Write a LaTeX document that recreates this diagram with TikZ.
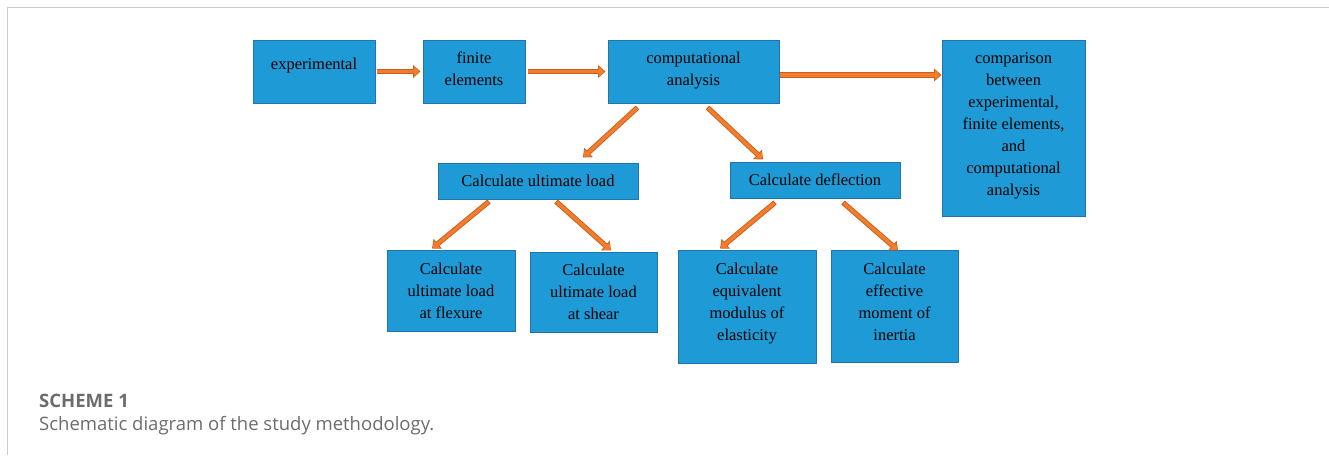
\documentclass[tikz,border=0pt]{standalone}
\usepackage{fontspec}
\setmainfont{Liberation Serif}
\newfontfamily\capfont{Open Sans}
\usetikzlibrary{arrows.meta}
\definecolor{boxfill}{HTML}{1E9BD7}
\definecolor{boxline}{HTML}{2473AA}
\definecolor{flowfill}{HTML}{F47C2C}
\definecolor{flowline}{HTML}{C55F1D}
\definecolor{framegray}{HTML}{CCCCCC}
\definecolor{capgray}{HTML}{6C6C6C}
\begin{document}
\begin{tikzpicture}[x=1pt,y=-1pt,
  box/.style={draw=boxline,fill=boxfill,line width=1pt,align=center,inner sep=0pt,font=\fontsize{16.5}{22}\selectfont},
  flow/.style={draw=flowfill,line width=3.4pt,-{Triangle[length=5.5pt,width=9.5pt]},shorten >=1.1pt,shorten <=0.9pt,
    preaction={draw=flowline,line width=5.2pt,-{Triangle[length=7.5pt,width=12.5pt]},shorten >=0pt,shorten <=0pt}}]
\useasboundingbox (0,0) rectangle (1329,455);
\draw[framegray,line width=1.3pt] (7.5,455) -- (7.5,7.5) -- (1329,7.5);
% top row
\node[box,minimum width=122pt,minimum height=63pt,text depth=16pt] (exper) at (314,71.5) {experimental};
\node[box,minimum width=102pt,minimum height=63pt,text depth=5pt] (finite) at (474,71.5) {finite\\elements};
\node[box,minimum width=171pt,minimum height=63pt,text depth=5pt] (comput) at (693.5,71.5) {computational\\analysis};
\node[box,minimum width=143pt,minimum height=176pt,text depth=7pt] (compar) at (1013.5,128) {comparison\\between\\experimental,\\finite elements,\\and\\computational\\analysis};
% middle row
\node[box,minimum width=200pt,minimum height=36pt] (ultload) at (538,181) {Calculate ultimate load};
\node[box,minimum width=170pt,minimum height=36pt] (deflect) at (815,180) {Calculate deflection};
% bottom row
\node[box,minimum width=128pt,minimum height=81pt] (flexure) at (451,290.5) {Calculate\\ultimate load\\at flexure};
\node[box,minimum width=127pt,minimum height=80pt] (shear) at (593.5,292) {Calculate\\ultimate load\\at shear};
\node[box,minimum width=138pt,minimum height=113pt,text depth=9pt] (equiv) at (747,306.5) {Calculate\\equivalent\\modulus of\\elasticity};
\node[box,minimum width=127pt,minimum height=112pt,text depth=8pt] (effect) at (894.5,306) {Calculate\\effective\\moment of\\inertia};
% arrows
\draw[flow] ([xshift=1pt]exper.east) -- ([xshift=-2pt]finite.west);
\draw[flow] ([xshift=2pt]finite.east) -- ([xshift=-2pt]comput.west);
\draw[flow] ([yshift=-3.5pt]comput.east) -- ([yshift=-3.5pt]comput.east -| compar.west);
\draw[flow] ([xshift=30pt,yshift=-4pt]comput.south west) -- ([xshift=45pt,yshift=5pt]ultload.north);
\draw[flow] ([xshift=100pt,yshift=-4pt]comput.south west) -- ([xshift=-52pt,yshift=2pt]deflect.north);
\draw[flow] ([xshift=-49pt,yshift=-2pt]ultload.south) -- ([xshift=-19pt,yshift=1pt]flexure.north);
\draw[flow] ([xshift=18pt,yshift=-2pt]ultload.south) -- ([xshift=17.5pt,yshift=1pt]shear.north);
\draw[flow] ([xshift=-40pt,yshift=-4pt]deflect.south) -- ([xshift=-27pt,yshift=1pt]equiv.north);
\draw[flow] ([xshift=28pt,yshift=-4pt]deflect.south) -- ([xshift=3.5pt,yshift=-1pt]effect.north);
% caption
\node[anchor=base west,inner sep=0pt,text=capgray,font=\capfont\bfseries\fontsize{18.5}{22}\selectfont] (schtitle) at (39,407) {SCHEME 1};
\node[anchor=base west,inner sep=0pt,text=capgray,font=\capfont\fontsize{18.5}{22}\selectfont] (schtext) at (39,430) {Schematic diagram of the study methodology.};
\end{tikzpicture}
\end{document}
